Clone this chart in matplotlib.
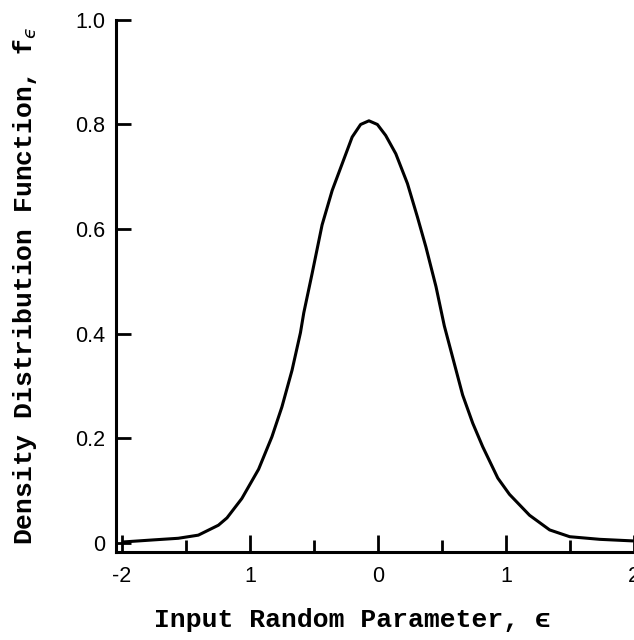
import matplotlib
matplotlib.use("Agg")
import matplotlib.pyplot as plt

# curve
eps = [-1.99, -1.75, -1.561, -1.404, -1.247, -1.18, -1.064, -0.933, -0.829,
       -0.751, -0.672, -0.606, -0.580, -0.515, -0.437, -0.358, -0.280, -0.202,
       -0.136, -0.071, -0.005, 0.060, 0.139, 0.230, 0.308, 0.374, 0.453, 0.518,
       0.596, 0.661, 0.740, 0.818, 0.936, 1.027, 1.184, 1.341, 1.498, 1.733,
       1.99]
density = [0.002, 0.006, 0.009, 0.015, 0.034, 0.048, 0.085, 0.141, 0.203,
           0.260, 0.330, 0.402, 0.440, 0.515, 0.608, 0.674, 0.725, 0.776,
           0.800, 0.807, 0.800, 0.779, 0.744, 0.687, 0.623, 0.566, 0.490, 0.415,
           0.343, 0.283, 0.229, 0.184, 0.124, 0.093, 0.053, 0.025, 0.012, 0.007,
           0.004]

xticks_major = [-2, -1, 0, 1, 2]
xtick_labels = ["-2", "1", "0", "1", "2"]
xticks_minor = [-1.5, -0.5, 0.5, 1.5]
yticks = [0, 0.2, 0.4, 0.6, 0.8, 1.0]
ytick_labels = ["0", "0.2", "0.4", "0.6", "0.8", "1.0"]

fig = plt.figure(figsize=(6.34, 6.40), dpi=100)
ax = fig.add_axes([0.183, 0.138, 0.817, 0.831])

ax.plot(eps, density, color="black", lw=2.2, solid_capstyle="round",
        solid_joinstyle="round")

ax.set_xlim(-2.047, 2.0)
ax.set_ylim(-0.0166, 1.0)

ax.spines["top"].set_visible(False)
ax.spines["right"].set_visible(False)
ax.spines["left"].set_linewidth(2.2)
ax.spines["bottom"].set_linewidth(2.2)

ax.set_xticks(xticks_major)
ax.set_xticklabels(xtick_labels)
ax.set_xticks(xticks_minor, minor=True)
ax.set_yticks(yticks)
ax.set_yticklabels(ytick_labels)

ax.tick_params(axis="both", which="major", direction="in", width=2.0,
               labelsize=15.5, colors="black")
ax.tick_params(axis="x", which="major", length=12, pad=10)
ax.tick_params(axis="x", which="minor", direction="in", length=9, width=2.0)
ax.tick_params(axis="y", which="major", length=11, pad=8)
for lab in ax.get_xticklabels() + ax.get_yticklabels():
    lab.set_family("Liberation Sans")

ax.set_xlabel("Input Random Parameter, \u03f5", fontsize=19,
              family=["Liberation Mono", "DejaVu Sans"], fontweight="bold")
ax.xaxis.set_label_coords(0.456, -0.106)
ax.set_ylabel("Density Distribution Function, f$_{\u03f5}$", fontsize=19,
              family=["Liberation Mono", "DejaVu Sans"], fontweight="bold",
              labelpad=26)

fig.savefig("out.png", dpi=100)
